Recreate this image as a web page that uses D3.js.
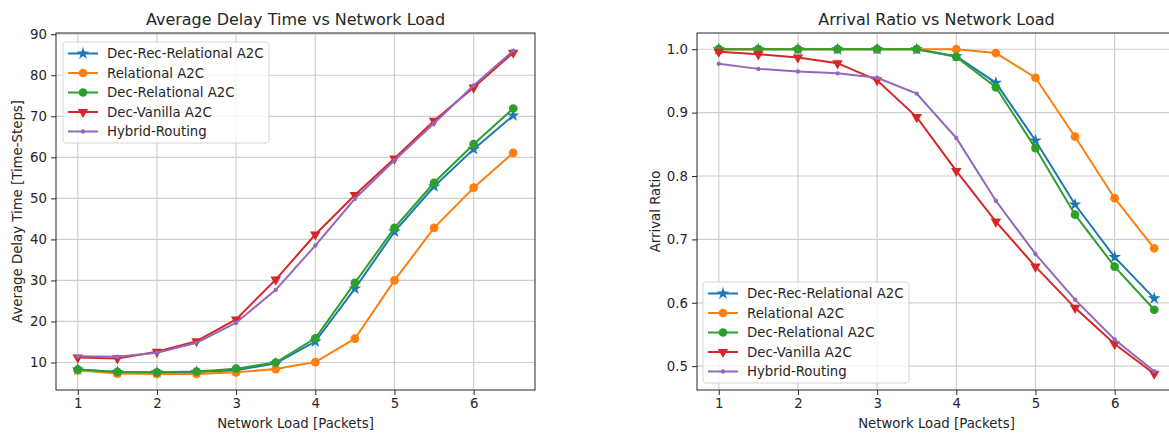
<!DOCTYPE html>
<html>
<head>
<meta charset="utf-8">
<script src="https://cdn.jsdelivr.net/npm/d3@7"></script>
<style>
	body { margin: 0; background: #fff; }
	text { font-family: "DejaVu Sans", sans-serif; fill: #262626; }
</style>
</head>
<body>
<script>
const loads = [1, 1.5, 2, 2.5, 3, 3.5, 4, 4.5, 5, 5.5, 6, 6.5];
const seriesNames = ["Dec-Rec-Relational A2C", "Relational A2C", "Dec-Relational A2C", "Dec-Vanilla A2C", "Hybrid-Routing"];
const seriesColors = ["#1f77b4", "#ff7f0e", "#2ca02c", "#d62728", "#9467bd"];
const seriesMarkers = ["star", "circle", "circle", "triangle", "point"];

// average delay (time-steps)
const delayDecRec = [8.3, 7.7, 7.6, 7.7, 8.1, 9.8, 15.1, 28.0, 41.9, 52.9, 62.0, 70.2];
const delayRel = [8.1, 7.3, 7.2, 7.2, 7.6, 8.4, 10.1, 15.8, 30.0, 42.8, 52.6, 61.1];
const delayDecRel = [8.3, 7.7, 7.6, 7.8, 8.5, 10.0, 15.9, 29.4, 42.8, 53.8, 63.2, 71.9];
const delayDecVan = [11.2, 11.0, 12.6, 15.2, 20.5, 30.2, 41.2, 50.8, 59.7, 68.9, 77.0, 85.5];
const delayHybrid = [11.5, 11.4, 12.4, 14.8, 19.7, 27.7, 38.5, 49.9, 59.3, 68.3, 77.5, 86.0];

// arrival ratio
const arrDecRec = [1.0, 1.0, 1.0, 1.0, 1.0, 1.0, 0.989, 0.947, 0.856, 0.755, 0.672, 0.607];
const arrRel = [1.0, 1.0, 1.0, 1.0, 1.0, 1.0, 1.0, 0.994, 0.955, 0.862, 0.765, 0.686];
const arrDecRel = [1.0, 1.0, 1.0, 1.0, 1.0, 1.0, 0.988, 0.940, 0.844, 0.739, 0.657, 0.589];
const arrDecVan = [0.996, 0.992, 0.987, 0.978, 0.951, 0.893, 0.808, 0.728, 0.657, 0.592, 0.535, 0.488];
const arrHybrid = [0.977, 0.969, 0.965, 0.962, 0.955, 0.930, 0.860, 0.761, 0.677, 0.605, 0.542, 0.492];

const xTicks = [1, 2, 3, 4, 5, 6];
const delayTicks = [10, 20, 30, 40, 50, 60, 70, 80, 90];
const arrTicks = [0.5, 0.6, 0.7, 0.8, 0.9, 1.0];

const width = 1169, height = 433;
const svg = d3.select("body").append("svg")
	.attr("width", width)
	.attr("height", height);

// matplotlib-like 5% padding
function padded(arrs) {
	const all = arrs.flat();
	const lo = d3.min(all), hi = d3.max(all);
	const m = (hi - lo) * 0.05;
	return [lo - m, hi + m];
}

function markerPath(kind) {
	if (kind === "star") return d3.symbol(d3.symbolStar, 50)();
	if (kind === "triangle") return d3.symbol(d3.symbolTriangle, 48)();
	if (kind === "circle") return d3.symbol(d3.symbolCircle, 60)();
	return d3.symbol(d3.symbolCircle, 15)();
}

function drawPanel(opt) {
	const g = svg.append("g");
	const x = d3.scaleLinear().domain(padded([loads])).range([opt.left, opt.right]);
	const y = d3.scaleLinear().domain(opt.yDomain).range([opt.bottom, opt.top]);

	const clipId = "clip" + opt.id;
	svg.append("clipPath").attr("id", clipId).append("rect")
		.attr("x", opt.left).attr("y", opt.top)
		.attr("width", opt.right - opt.left).attr("height", opt.bottom - opt.top);

	// grid
	g.append("g").selectAll("line").data(xTicks).enter().append("line")
		.attr("x1", d => x(d)).attr("x2", d => x(d))
		.attr("y1", opt.top).attr("y2", opt.bottom)
		.attr("stroke", "#cfcfcf").attr("stroke-width", 1.2);
	g.append("g").selectAll("line").data(opt.yTicks).enter().append("line")
		.attr("x1", opt.left).attr("x2", opt.right)
		.attr("y1", d => y(d)).attr("y2", d => y(d))
		.attr("stroke", "#cfcfcf").attr("stroke-width", 1.2);

	// axes
	const xAxis = g.append("g")
		.attr("transform", `translate(0,${opt.bottom})`)
		.call(d3.axisBottom(x).tickValues(xTicks).tickFormat(d3.format("d")).tickSize(5).tickPadding(4));
	const yAxis = g.append("g")
		.attr("transform", `translate(${opt.left},0)`)
		.call(d3.axisLeft(y).tickValues(opt.yTicks).tickFormat(opt.fmt).tickSize(5).tickPadding(4));
	[xAxis, yAxis].forEach(a => {
		a.select(".domain").remove();
		a.selectAll("line").attr("stroke", "#262626");
		a.selectAll("text").attr("font-size", "13.3px").attr("fill", "#262626")
			.style("font-family", "DejaVu Sans, sans-serif");
	});

	// lines + markers
	const line = d3.line().x((d, i) => x(loads[i])).y(d => y(d));
	const plot = g.append("g").attr("clip-path", `url(#${clipId})`);
	opt.series.forEach((vals, s) => {
		plot.append("path")
			.attr("d", line(vals))
			.attr("fill", "none")
			.attr("stroke", seriesColors[s])
			.attr("stroke-width", 2);
		plot.append("g").selectAll("path").data(vals).enter().append("path")
			.attr("d", markerPath(seriesMarkers[s]))
			.attr("transform", (d, i) => `translate(${x(loads[i])},${y(d)})` + (seriesMarkers[s] === "triangle" ? " rotate(180)" : ""))
			.attr("fill", seriesColors[s]);
	});

	// frame
	g.append("rect")
		.attr("x", opt.left).attr("y", opt.top)
		.attr("width", opt.right - opt.left).attr("height", opt.bottom - opt.top)
		.attr("fill", "none").attr("stroke", "#262626").attr("stroke-width", 1);

	// titles
	g.append("text")
		.attr("x", (opt.left + opt.right) / 2).attr("y", opt.top - 8)
		.attr("text-anchor", "middle").attr("font-size", "16px")
		.text(opt.title);
	g.append("text")
		.attr("x", (opt.left + opt.right) / 2).attr("y", opt.bottom + 38)
		.attr("text-anchor", "middle").attr("font-size", "13.3px")
		.text("Network Load [Packets]");
	g.append("text")
		.attr("transform", `translate(${opt.left - opt.yLabelOff},${(opt.top + opt.bottom) / 2}) rotate(-90)`)
		.attr("text-anchor", "middle").attr("font-size", "13.3px")
		.text(opt.yLabel);

	// legend
	const lg = g.append("g").attr("transform", `translate(${opt.legX},${opt.legY})`);
	lg.append("rect")
		.attr("width", 206).attr("height", 101)
		.attr("rx", 3)
		.attr("fill", "#fff").attr("fill-opacity", 0.8)
		.attr("stroke", "#d6d6d6");
	seriesNames.forEach((name, s) => {
		const yy = 11.5 + s * 19.5;
		lg.append("line")
			.attr("x1", 5).attr("x2", 35).attr("y1", yy).attr("y2", yy)
			.attr("stroke", seriesColors[s]).attr("stroke-width", 2);
		lg.append("path")
			.attr("d", markerPath(seriesMarkers[s]))
			.attr("transform", `translate(20,${yy})` + (seriesMarkers[s] === "triangle" ? " rotate(180)" : ""))
			.attr("fill", seriesColors[s]);
		lg.append("text")
			.attr("x", 44).attr("y", yy + 4.8)
			.attr("font-size", "13.3px")
			.text(name);
	});
}

drawPanel({
	id: "delay",
	left: 56, right: 535, top: 33, bottom: 390,
	yDomain: [3.3, 90.3],
	yTicks: delayTicks,
	fmt: d3.format("d"),
	series: [delayDecRec, delayRel, delayDecRel, delayDecVan, delayHybrid],
	title: "Average Delay Time vs Network Load",
	yLabel: "Average Delay Time [Time-Steps]",
	yLabelOff: 34,
	legX: 63, legY: 42
});

drawPanel({
	id: "arrival",
	left: 697, right: 1176, top: 33, bottom: 390,
	yDomain: padded([arrDecRec, arrRel, arrDecRel, arrDecVan, arrHybrid]),
	yTicks: arrTicks,
	fmt: d3.format(".1f"),
	series: [arrDecRec, arrRel, arrDecRel, arrDecVan, arrHybrid],
	title: "Arrival Ratio vs Network Load",
	yLabel: "Arrival Ratio",
	yLabelOff: 37,
	legX: 703, legY: 282
});
</script>
</body>
</html>
